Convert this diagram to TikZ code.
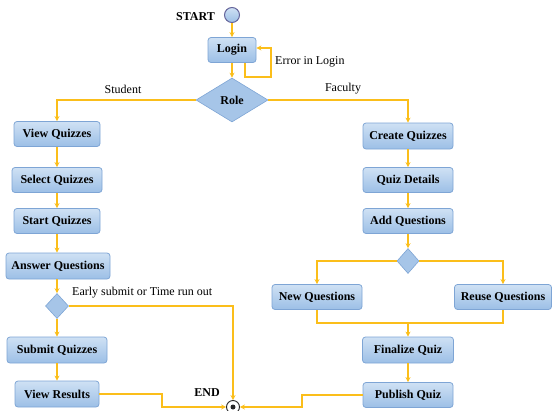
\documentclass[tikz,border=0pt]{standalone}
\usepackage{fontspec}
\setmainfont{Liberation Serif}
\usetikzlibrary{shapes.geometric,arrows.meta,calc}
\definecolor{boxtop}{HTML}{CFE1F4}
\definecolor{boxbot}{HTML}{9CBFE6}
\definecolor{boxline}{HTML}{7EA5D5}
\definecolor{conncol}{HTML}{FBBE1A}
\tikzset{
  stepbox/.style={draw=boxline, line width=0.8pt, rounded corners=3pt, top color=boxtop, bottom color=boxbot,
    font=\fontsize{12}{14}\selectfont\bfseries, inner sep=0pt, minimum height=25pt},
  decision/.style={diamond, draw=boxline, line width=0.6pt, fill=boxbot!90!white, inner sep=0pt},
  conn/.style={draw=conncol, line width=1.6pt, -{Stealth[length=5pt,width=5pt]}},
  plain/.style={draw=conncol, line width=1.6pt},
  lbl/.style={font=\fontsize{12}{14}\selectfont, inner sep=0pt},
}
\begin{document}
\begin{tikzpicture}[x=1pt,y=-1pt]
\useasboundingbox (0,0) rectangle (552,410);
% start
\node[circle, draw=black!65!blue!60, line width=1pt, top color=boxtop, bottom color=boxbot, minimum size=15pt, inner sep=0pt] (startc) at (232,15) {};
\node[lbl, font=\fontsize{12}{14}\selectfont\bfseries, anchor=east] (startl) at (215,17) {START};
\node[stepbox, minimum width=48pt] (login) at (232,50) {Login};
\node[decision, minimum width=72pt, minimum height=44pt] (role) at (232,100) {\fontsize{12}{14}\selectfont\bfseries Role};
% student column
\node[stepbox, minimum width=86pt] (view) at (57,134) {View Quizzes};
\node[stepbox, minimum width=90pt] (select) at (57,180) {Select Quizzes};
\node[stepbox, minimum width=86pt] (startq) at (57,221) {Start Quizzes};
\node[stepbox, minimum width=104pt, minimum height=26pt] (answer) at (58,266) {Answer Questions};
\node[decision, minimum width=23pt, minimum height=25pt] (dec1) at (57,306) {};
\node[stepbox, minimum width=100pt, minimum height=26pt] (submit) at (57,350) {Submit Quizzes};
\node[stepbox, minimum width=84pt, minimum height=26pt] (results) at (57,394) {View Results};
% faculty column
\node[stepbox, minimum width=90pt, minimum height=26pt] (create) at (408,136) {Create Quizzes};
\node[stepbox, minimum width=90pt] (details) at (408,180) {Quiz Details};
\node[stepbox, minimum width=90pt] (addq) at (408,221) {Add Questions};
\node[decision, minimum width=22pt, minimum height=25pt] (dec2) at (408,261) {};
\node[stepbox, minimum width=90pt] (newq) at (317,297) {New Questions};
\node[stepbox, minimum width=97pt] (reuse) at (503,297) {Reuse Questions};
\node[stepbox, minimum width=91pt, minimum height=26pt] (final) at (408,350) {Finalize Quiz};
\node[stepbox, minimum width=90pt] (publish) at (408,395) {Publish Quiz};
% end
\node[circle, draw=black!85, line width=0.9pt, fill=white, minimum size=13pt, inner sep=0pt] (endc) at (233,407) {};
\node[circle, fill=black!85, minimum size=5pt, inner sep=0pt] (endd) at (233,407) {};
\node[lbl, font=\fontsize{12}{14}\selectfont\bfseries] (endl) at (207,393) {END};
% labels
\node[lbl] (stud) at (123,89) {Student};
\node[lbl] (fac) at (343,89) {Faculty};
\node[lbl, anchor=west] (err) at (275,62) {Error in Login};
\node[lbl, anchor=west] (early) at (72,293) {Early submit or Time run out};
% coordinates
\coordinate (e1) at (271,77);
\coordinate (m1) at (162,407);
\coordinate (m2) at (302,407);
\coordinate (m3) at (408,323);
% connectors
\draw[conn] (startc) -- (login);
\draw[conn] (login) -- (role);
\draw[conn] ([xshift=13pt]login.south) |- (e1) |- ([yshift=2pt]login.east);
\draw[conn] (role.west) -| (view.north);
\draw[conn] (role.east) -| (create.north);
\draw[conn] (view) -- (select);
\draw[conn] (select) -- (startq);
\draw[conn] (startq) -- (answer.north -| startq.south);
\draw[conn] (answer.south -| dec1.north) -- (dec1);
\draw[conn] (dec1) -- (submit);
\draw[conn] (submit) -- (results);
\draw[conn] (dec1.east) -| (endc.north);
\draw[conn] (results.east) -| (m1) -- (endc.west);
\draw[conn] (publish.west) -| (m2) -- (endc.east);
\draw[conn] (create) -- (details);
\draw[conn] (details) -- (addq);
\draw[conn] (addq) -- (dec2);
\draw[conn] (dec2.west) -| (newq.north);
\draw[conn] (dec2.east) -| (reuse.north);
\draw[plain] (newq.south) |- (m3) -| (reuse.south);
\draw[conn] (m3) -- (final);
\draw[conn] (final) -- (publish);
\end{tikzpicture}
\end{document}
